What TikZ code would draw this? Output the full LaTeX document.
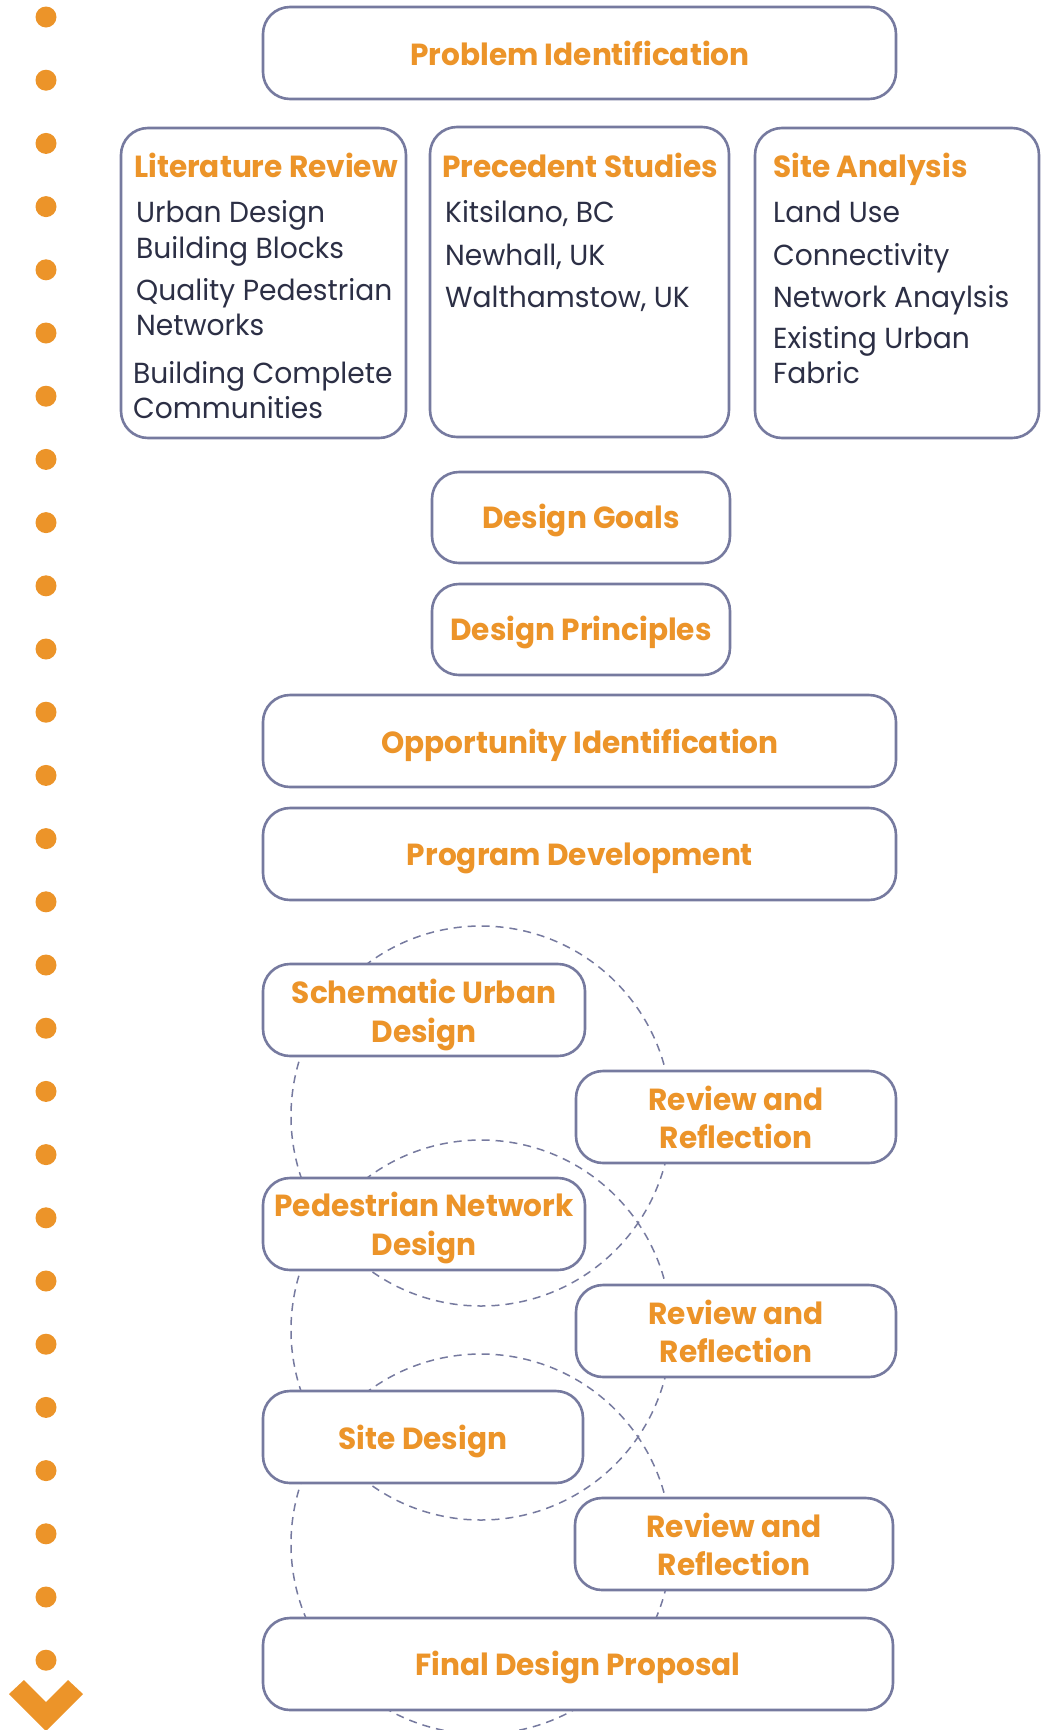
\documentclass[tikz,border=0pt]{standalone}
\usepackage{fontspec}
\setmainfont{Poppins}[FakeStretch=0.97]
\definecolor{accent}{HTML}{EC9429}
\definecolor{frame}{HTML}{767A9F}
\definecolor{ink}{HTML}{2C2F45}

\begin{document}
\begin{tikzpicture}[x=1pt,y=-1pt,
  box/.style={draw=frame, line width=2.6pt, rounded corners=27pt, fill=white,
              anchor=north west, inner sep=0pt, outer sep=0pt},
  wide/.style={box, minimum width=633pt, minimum height=92pt},
  half/.style={box, minimum width=320pt, minimum height=92pt},
  mid/.style={box, minimum width=298pt, minimum height=91pt},
  col/.style={box, minimum height=310pt},
  head/.style={text=accent, inner sep=0pt, anchor=base,
               font=\bfseries\fontsize{30.5}{36}\selectfont},
  headl/.style={head, anchor=base west},
  body/.style={text=ink, inner sep=0pt, anchor=base west,
               font=\fontsize{29}{34}\selectfont},
  loop/.style={draw=frame, line width=1.5pt, dash pattern=on 8pt off 6pt},
  dot/.style={fill=accent}
]
\useasboundingbox (0,0) rectangle (1048,1730);

% timeline of dots with the arrow head
\foreach \i in {0,...,26}
  \fill[dot] (46,{17+63.2*\i}) circle[radius=10.5];
\fill[dot] (9,1694) -- (24,1680) -- (46,1702) -- (68,1680) -- (83,1694) -- (46,1731) -- cycle;

% iteration loops behind the design stages
\draw[loop] (481,1116) circle[radius=190];
\draw[loop] (481,1330) circle[radius=190];
\draw[loop] (481,1544) circle[radius=190];

% research stage
\node[wide] (prob) at (263,7) {};
\node[head] (probT) at (580,65) {Problem Identification};

\node[col, minimum width=285pt] (lit) at (121,128) {};
\node[headl] (litT) at (134,177) {Literature Review};
\node[body] (lit1) at (136,222) {Urban Design};
\node[body] (lit2) at (136,258) {Building Blocks};
\node[body] (lit3) at (136,300) {Quality Pedestrian};
\node[body] (lit4) at (136,335) {Networks};
\node[body] (lit5) at (133,383) {Building Complete};
\node[body] (lit6) at (133,418) {Communities};

\node[col, minimum width=299pt] (prec) at (430,127) {};
\node[headl] (precT) at (442,177) {Precedent Studies};
\node[body] (prec1) at (445,222) {Kitsilano, BC};
\node[body] (prec2) at (445,265) {Newhall, UK};
\node[body] (prec3) at (445,307) {Walthamstow, UK};

\node[col, minimum width=284pt] (site) at (755,128) {};
\node[headl] (siteT) at (773,177) {Site Analysis};
\node[body] (site1) at (773,222) {Land Use};
\node[body] (site2) at (773,265) {Connectivity};
\node[body] (site3) at (773,307) {Network Anaylsis};
\node[body] (site4) at (773,348) {Existing Urban};
\node[body] (site5) at (773,383) {Fabric};

% goals and program
\node[mid] (goals) at (432,472) {};
\node[head] (goalsT) at (581,528) {Design Goals};
\node[mid] (princ) at (432,584) {};
\node[head] (princT) at (581,640) {Design Principles};
\node[wide] (opp) at (263,695) {};
\node[head] (oppT) at (580,753) {Opportunity Identification};
\node[wide] (prog) at (263,808) {};
\node[head] (progT) at (580,865) {Program Development};

% design iterations
\node[half, minimum width=322pt] (schem) at (263,964) {};
\node[head] (schemT1) at (424,1003) {Schematic Urban};
\node[head] (schemT2) at (424,1042) {Design};
\node[half] (rev1) at (576,1071) {};
\node[head] (rev1T1) at (736,1110) {Review and};
\node[head] (rev1T2) at (736,1148) {Reflection};

\node[half, minimum width=322pt] (ped) at (263,1178) {};
\node[head] (pedT1) at (424,1216) {Pedestrian Network};
\node[head] (pedT2) at (424,1255) {Design};
\node[half] (rev2) at (576,1285) {};
\node[head] (rev2T1) at (736,1324) {Review and};
\node[head] (rev2T2) at (736,1362) {Reflection};

\node[half] (sited) at (263,1391) {};
\node[head] (sitedT) at (423,1449) {Site Design};
\node[half, minimum width=318pt] (rev3) at (575,1498) {};
\node[head] (rev3T1) at (734,1537) {Review and};
\node[head] (rev3T2) at (734,1575) {Reflection};

\node[wide, minimum width=630pt] (final) at (263,1618) {};
\node[head] (finalT) at (578,1675) {Final Design Proposal};
\end{tikzpicture}
\end{document}
